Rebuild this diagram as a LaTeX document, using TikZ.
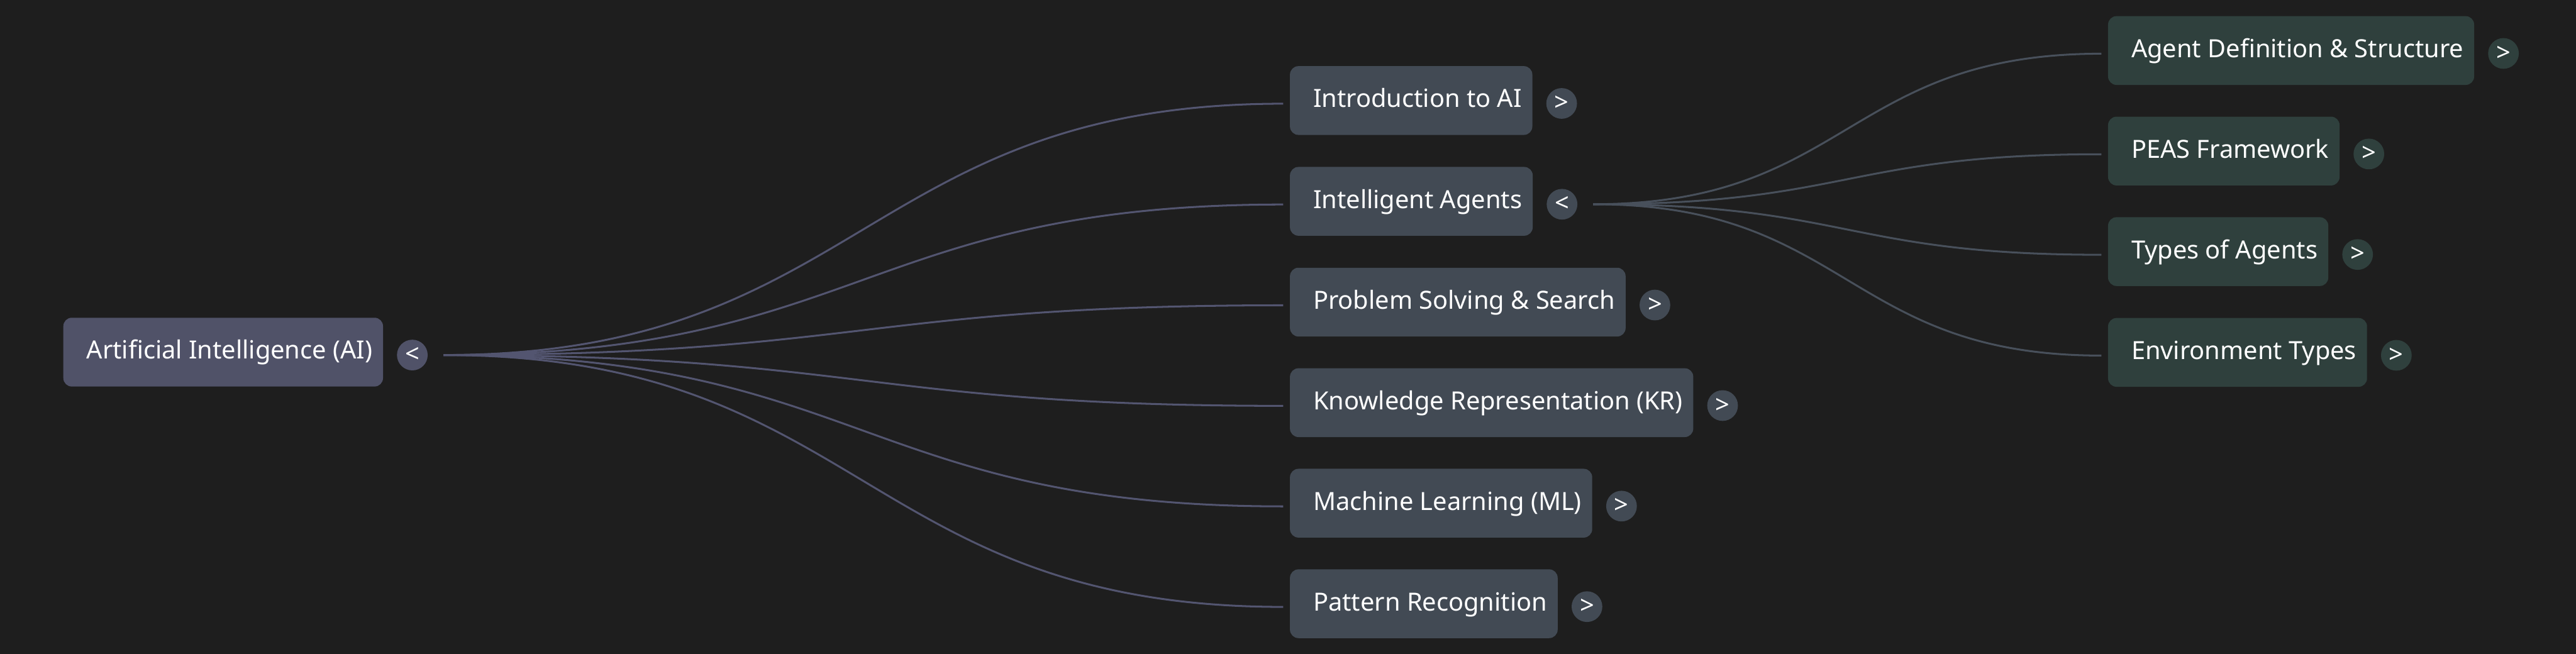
\documentclass[tikz,border=0pt]{standalone}
\usepackage{fontspec}
\setmainfont{Noto Sans}
\usepackage{xcolor}
\usepackage{tikz}
\usetikzlibrary{calc,positioning}
\definecolor{bgcol}{HTML}{1E1E1E}
\definecolor{rootcol}{HTML}{505268}
\definecolor{topiccol}{HTML}{424A54}
\definecolor{subcol}{HTML}{2F403D}
\definecolor{rootline}{HTML}{535570}
\definecolor{topicline}{HTML}{48505B}

\begin{document}
\begin{tikzpicture}[
  every node/.style={font=\fontsize{13.45}{16}\selectfont, text=white},
  card/.style={rounded corners=0.16cm, minimum height=1.3cm, inner xsep=0.2cm, inner ysep=0pt,
    text height=0.34cm, text depth=0.08cm, anchor=west,
    execute at begin node={\hspace*{0.24cm}}},
  tog/.style={circle, minimum size=0.58cm, inner sep=0pt, right=0.25cm of #1, yshift=-0.055cm},
  rootlink/.style={draw=rootline, line width=0.036cm},
  topiclink/.style={draw=topicline, line width=0.036cm}
]

\fill[bgcol] (0,0) rectangle (48.68,-12.36);
\useasboundingbox (0,0) rectangle (48.68,-12.36);

% root
\node[card, fill=rootcol] (ai) at (1.19,-6.655) {Artificial Intelligence (AI)};
\node[tog=ai, fill=rootcol] (aitog) {<};

% topics
\node[card, fill=topiccol] (intro) at (24.37,-1.9) {Introduction to AI};
\node[card, fill=topiccol] (agents) at (24.37,-3.805) {Intelligent Agents};
\node[card, fill=topiccol] (search) at (24.37,-5.71) {Problem Solving \& Search};
\node[card, fill=topiccol] (kr) at (24.37,-7.61) {Knowledge Representation (KR)};
\node[card, fill=topiccol] (ml) at (24.37,-9.51) {Machine Learning (ML)};
\node[card, fill=topiccol] (pr) at (24.37,-11.41) {Pattern Recognition};

\node[tog=intro, fill=topiccol] (introtog) {>};
\node[tog=agents, fill=topiccol] (agentstog) {<};
\node[tog=search, fill=topiccol] (searchtog) {>};
\node[tog=kr, fill=topiccol] (krtog) {>};
\node[tog=ml, fill=topiccol] (mltog) {>};
\node[tog=pr, fill=topiccol] (prtog) {>};

% agent subtopics
\node[card, fill=subcol] (agdef) at (39.83,-0.955) {Agent Definition \& Structure};
\node[card, fill=subcol] (peas) at (39.83,-2.855) {PEAS Framework};
\node[card, fill=subcol] (agtypes) at (39.83,-4.755) {Types of Agents};
\node[card, fill=subcol] (envtypes) at (39.83,-6.66) {Environment Types};

\node[tog=agdef, fill=subcol] (agdeftog) {>};
\node[tog=peas, fill=subcol] (peastog) {>};
\node[tog=agtypes, fill=subcol] (agtypestog) {>};
\node[tog=envtypes, fill=subcol] (envtypestog) {>};

\foreach \n in {intro,agents,search,kr,ml,pr}
  \draw[rootlink] ([xshift=0.29cm]aitog.east) .. controls +(7.92,0) and +(-7.92,0) .. ([xshift=-0.12cm,yshift=-0.06cm]\n.west);

\foreach \n in {agdef,peas,agtypes,envtypes}
  \draw[topiclink] ([xshift=0.29cm]agentstog.east) .. controls +(4.83,0) and +(-4.83,0) .. ([xshift=-0.12cm,yshift=-0.06cm]\n.west);

\end{tikzpicture}
\end{document}
